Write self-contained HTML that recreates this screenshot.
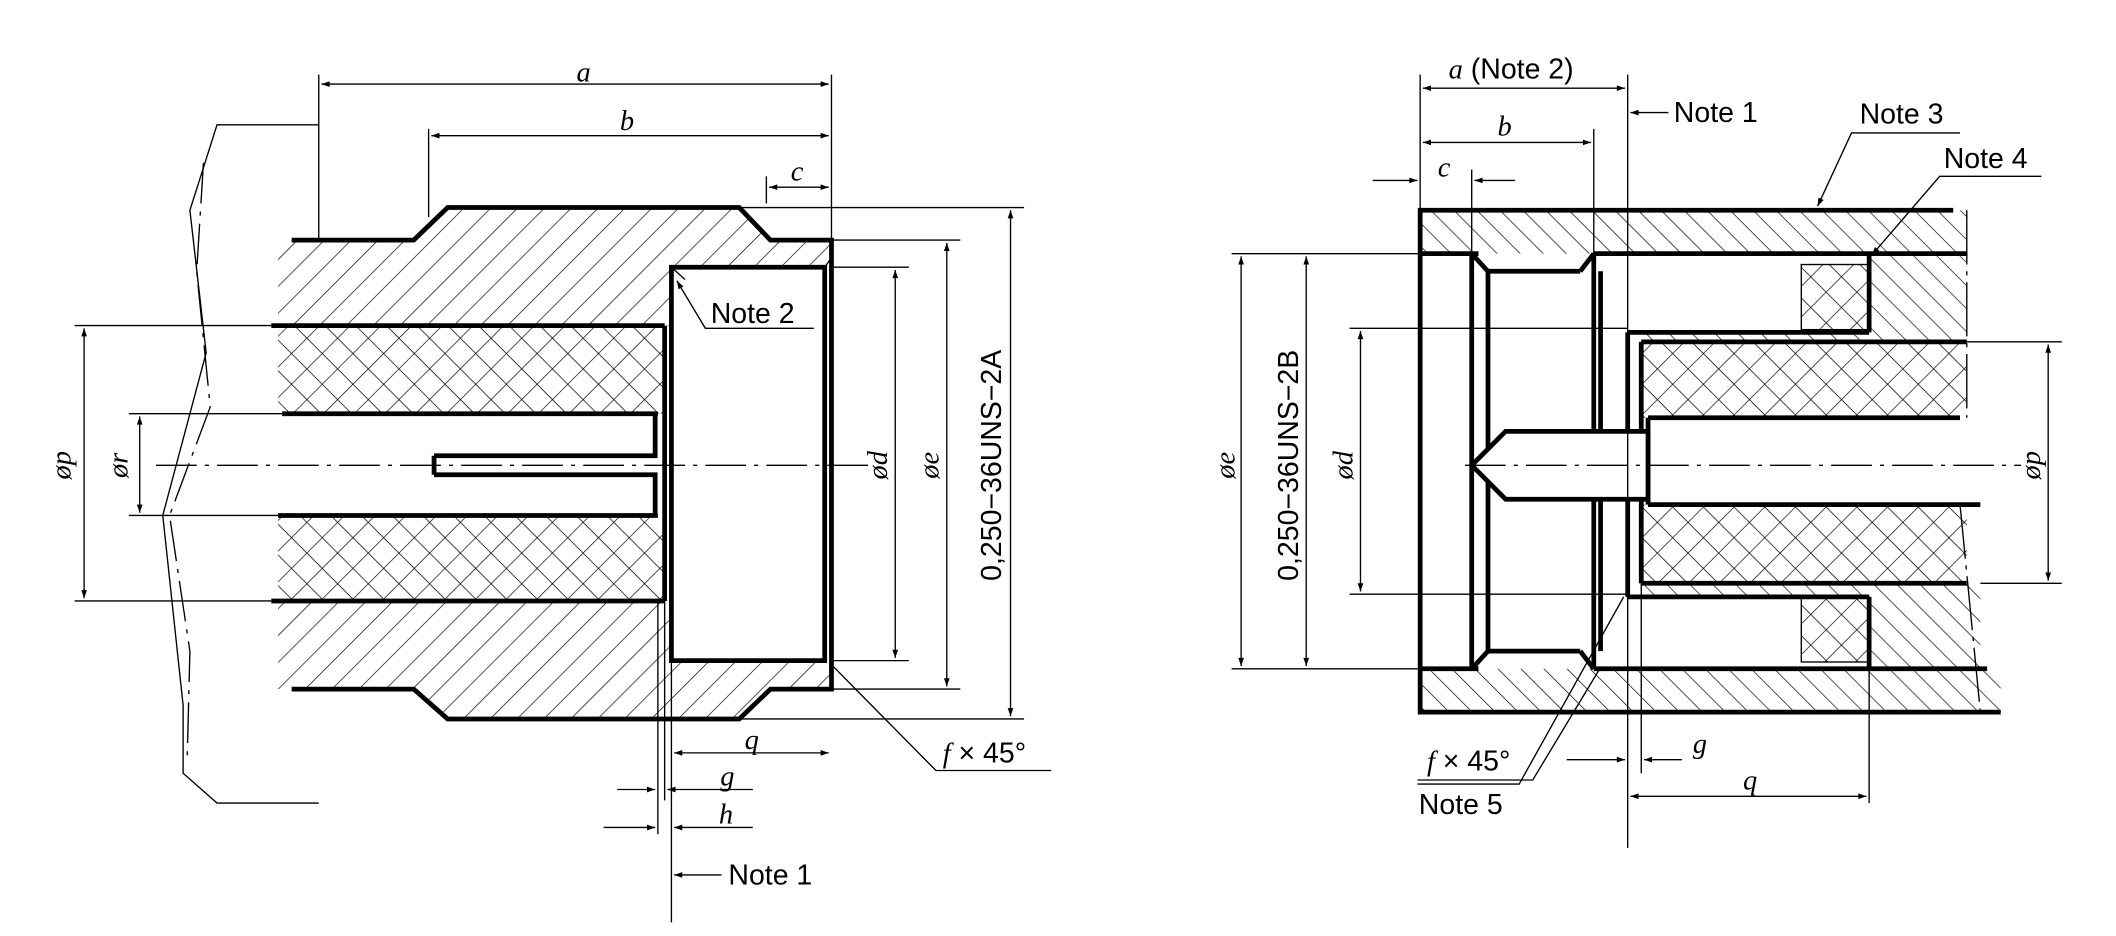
<!DOCTYPE html>
<html><head><meta charset="utf-8"><style>
html,body{margin:0;padding:0;background:#fff;}
svg{display:block;}
text{font-family:"Liberation Sans",sans-serif;fill:#000;}
.it{font-family:"Liberation Serif",serif;font-style:italic;}
</style></head><body>
<svg width="2116" height="936" viewBox="0 0 1560 690" preserveAspectRatio="none" xmlns="http://www.w3.org/2000/svg">
<defs>
<pattern id="h" width="14" height="14" patternUnits="userSpaceOnUse" patternTransform="rotate(45)"><line x1="0" y1="0" x2="0" y2="14" stroke="#000" stroke-width="1"/></pattern>
<pattern id="h2" width="12" height="12" patternUnits="userSpaceOnUse" patternTransform="rotate(-45)"><line x1="0" y1="0" x2="0" y2="12" stroke="#000" stroke-width="1"/></pattern>
<pattern id="x" width="16" height="16" patternUnits="userSpaceOnUse" patternTransform="rotate(45)"><line x1="0" y1="0" x2="0" y2="16" stroke="#000" stroke-width="1"/><line x1="0" y1="0" x2="16" y2="0" stroke="#000" stroke-width="1"/></pattern>
<marker id="a" viewBox="0 0 10 10" refX="10" refY="5" markerWidth="14" markerHeight="6" orient="auto-start-reverse" markerUnits="userSpaceOnUse"><path d="M0,1.5 L10,5 L0,8.5 z" fill="#000"/></marker>
</defs>
<g fill="none" stroke="#000">
<!-- LEFT hatch -->
<polygon points="205,177 305,177 330,153 545,153 568,177 613,177 613,197 495,197 495,240 205,240" fill="url(#h)" stroke="none"/>
<polygon points="205,443 495,443 495,487 613,487 613,508 568,508 545,530 330,530 305,508 205,508" fill="url(#h)" stroke="none"/>
<rect x="205" y="240" width="285" height="65" fill="url(#x)" stroke="none"/>
<rect x="205" y="380" width="285" height="63" fill="url(#x)" stroke="none"/>
<!-- left break -->
<path d="M235,92 L160,92 L140,155 L152,260 L120,380 L135,520 L135,570 L160,592 L235,592" stroke-width="1"/>
<path d="M150,120 L145,200 L155,300 L125,380 L140,480 L138,560" stroke-width="1" stroke-dasharray="30,6,3,6"/>
<!-- body outline -->
<g stroke-width="3.5">
<polyline points="215,177 305,177 330,153 545,153 568,177 613,177 613,508 568,508 545,530 330,530 305,508 215,508"/>
<line x1="200" y1="240" x2="490" y2="240"/><line x1="200" y1="443" x2="490" y2="443"/>
<line x1="208" y1="305" x2="485" y2="305"/><line x1="205" y1="380" x2="485" y2="380"/>
<line x1="490" y1="240" x2="490" y2="443"/>
<rect x="495" y="197" width="113" height="290"/>
<polyline points="320,336 483,336 483,305"/><polyline points="320,350 483,350 483,380"/><line x1="320" y1="336" x2="320" y2="350"/>
</g>
<line x1="495" y1="197" x2="505" y2="206"/><line x1="608" y1="197" x2="613" y2="190"/>
<line x1="115" y1="343" x2="640" y2="343" stroke-dasharray="30,6,3,6"/>
<!-- left dims -->
<g stroke-width="1">
<line x1="235" y1="55" x2="235" y2="177"/><line x1="316" y1="95" x2="316" y2="160"/><line x1="613" y1="55" x2="613" y2="177"/><line x1="565" y1="130" x2="565" y2="150"/>
<line x1="237" y1="62" x2="611" y2="62" marker-start="url(#a)" marker-end="url(#a)"/>
<line x1="318" y1="100" x2="611" y2="100" marker-start="url(#a)" marker-end="url(#a)"/>
<line x1="567" y1="138" x2="611" y2="138" marker-start="url(#a)" marker-end="url(#a)"/>
<line x1="55" y1="240" x2="200" y2="240"/><line x1="55" y1="443" x2="200" y2="443"/>
<line x1="62" y1="242" x2="62" y2="441" marker-start="url(#a)" marker-end="url(#a)"/>
<line x1="95" y1="305" x2="208" y2="305"/><line x1="95" y1="380" x2="205" y2="380"/>
<line x1="103" y1="307" x2="103" y2="378" marker-start="url(#a)" marker-end="url(#a)"/>
<line x1="613" y1="197" x2="670" y2="197"/><line x1="613" y1="487" x2="670" y2="487"/>
<line x1="660" y1="199" x2="660" y2="485" marker-start="url(#a)" marker-end="url(#a)"/>
<line x1="613" y1="177" x2="708" y2="177"/><line x1="613" y1="508" x2="708" y2="508"/>
<line x1="698" y1="179" x2="698" y2="506" marker-start="url(#a)" marker-end="url(#a)"/>
<line x1="545" y1="153" x2="755" y2="153"/><line x1="545" y1="530" x2="755" y2="530"/>
<line x1="745" y1="155" x2="745" y2="528" marker-start="url(#a)" marker-end="url(#a)"/>
<line x1="495" y1="487" x2="495" y2="680"/><line x1="485" y1="443" x2="485" y2="615"/><line x1="490" y1="443" x2="490" y2="590"/>
<line x1="497" y1="555" x2="611" y2="555" marker-start="url(#a)" marker-end="url(#a)"/>
<line x1="455" y1="582" x2="483" y2="582" marker-end="url(#a)"/><line x1="555" y1="582" x2="492" y2="582" marker-end="url(#a)"/>
<line x1="445" y1="610" x2="483" y2="610" marker-end="url(#a)"/><line x1="555" y1="610" x2="497" y2="610" marker-end="url(#a)"/>
<line x1="532" y1="645" x2="497" y2="645" marker-end="url(#a)"/>
<polyline points="600,242 520,242 499,207" marker-end="url(#a)"/>
<polyline points="775,568 690,568 613,490"/>
</g>
<!-- RIGHT hatch -->
<rect x="1047" y="155" width="403" height="32" fill="url(#h2)" stroke="none"/>
<rect x="1047" y="493" width="428" height="32" fill="url(#h2)" stroke="none"/>
<polygon points="1378,187 1450,187 1450,252 1210,252 1210,245 1378,245" fill="url(#h2)" stroke="none"/>
<polygon points="1378,493 1460,493 1460,430 1210,430 1210,440 1378,440" fill="url(#h2)" stroke="none"/>
<rect x="1210" y="252" width="240" height="56" fill="url(#x)" stroke="none"/>
<rect x="1210" y="372" width="240" height="58" fill="url(#x)" stroke="none"/>
<rect x="1328" y="195" width="50" height="48" fill="url(#x)"/>
<rect x="1328" y="440" width="50" height="48" fill="url(#x)"/>
<g stroke-width="3.5">
<polyline points="1440,155 1047,155 1047,525 1475,525"/>
<line x1="1047" y1="187" x2="1090" y2="187"/><line x1="1175" y1="187" x2="1450" y2="187"/>
<line x1="1047" y1="493" x2="1090" y2="493"/><line x1="1175" y1="493" x2="1465" y2="493"/>
<line x1="1085" y1="187" x2="1085" y2="493"/><line x1="1097" y1="200" x2="1097" y2="480"/>
<line x1="1097" y1="200" x2="1165" y2="200"/><line x1="1097" y1="480" x2="1165" y2="480"/>
<line x1="1085" y1="187" x2="1097" y2="200"/><line x1="1085" y1="493" x2="1097" y2="480"/>
<line x1="1165" y1="200" x2="1175" y2="187"/><line x1="1165" y1="480" x2="1175" y2="493"/>
<line x1="1175" y1="187" x2="1175" y2="493"/><line x1="1180" y1="200" x2="1180" y2="480"/>
<line x1="1200" y1="245" x2="1200" y2="440"/><line x1="1210" y1="252" x2="1210" y2="430"/>
<line x1="1200" y1="245" x2="1378" y2="245"/><line x1="1200" y1="440" x2="1378" y2="440"/>
<line x1="1378" y1="187" x2="1378" y2="245"/><line x1="1378" y1="440" x2="1378" y2="493"/>
<line x1="1210" y1="252" x2="1450" y2="252"/><line x1="1210" y1="430" x2="1450" y2="430"/>
<line x1="1215" y1="308" x2="1445" y2="308"/><line x1="1215" y1="372" x2="1460" y2="372"/>
<polyline points="1215,308 1215,372"/>
<polygon points="1110,318 1215,318 1215,368 1110,368 1085,343" fill="#fff"/>
</g>
<line x1="1450" y1="155" x2="1450" y2="308" stroke-dasharray="40,5,3,5"/><line x1="1445" y1="372" x2="1460" y2="525" stroke-dasharray="40,5,3,5"/>
<line x1="1080" y1="343" x2="1490" y2="343" stroke-dasharray="30,6,3,6"/>
<g stroke-width="1">
<line x1="1047" y1="55" x2="1047" y2="155"/><line x1="1200" y1="55" x2="1200" y2="625"/><line x1="1175" y1="95" x2="1175" y2="187"/><line x1="1085" y1="125" x2="1085" y2="187"/>
<line x1="1049" y1="65" x2="1198" y2="65" marker-start="url(#a)" marker-end="url(#a)"/>
<line x1="1049" y1="105" x2="1173" y2="105" marker-start="url(#a)" marker-end="url(#a)"/>
<line x1="1012" y1="133" x2="1045" y2="133" marker-end="url(#a)"/><line x1="1117" y1="133" x2="1087" y2="133" marker-end="url(#a)"/>
<line x1="1230" y1="83" x2="1202" y2="83" marker-end="url(#a)"/>
<polyline points="1445,98 1365,98 1340,152" marker-end="url(#a)"/>
<polyline points="1505,130 1430,130 1380,188" marker-end="url(#a)"/>
<line x1="908" y1="187" x2="1047" y2="187"/><line x1="908" y1="493" x2="1047" y2="493"/>
<line x1="915" y1="189" x2="915" y2="491" marker-start="url(#a)" marker-end="url(#a)"/>
<line x1="963" y1="189" x2="963" y2="491" marker-start="url(#a)" marker-end="url(#a)"/>
<line x1="995" y1="242" x2="1200" y2="242"/><line x1="995" y1="438" x2="1200" y2="438"/>
<line x1="1003" y1="244" x2="1003" y2="436" marker-start="url(#a)" marker-end="url(#a)"/>
<line x1="1450" y1="252" x2="1520" y2="252"/><line x1="1460" y1="430" x2="1520" y2="430"/>
<line x1="1510" y1="254" x2="1510" y2="428" marker-start="url(#a)" marker-end="url(#a)"/>
<line x1="1210" y1="430" x2="1210" y2="570"/><line x1="1378" y1="493" x2="1378" y2="592"/>
<line x1="1155" y1="560" x2="1198" y2="560" marker-end="url(#a)"/><line x1="1240" y1="560" x2="1212" y2="560" marker-end="url(#a)"/>
<line x1="1202" y1="587" x2="1376" y2="587" marker-start="url(#a)" marker-end="url(#a)"/>
<polyline points="1045,575 1130,575 1180,492"/>
<polyline points="1045,578 1120,578 1197,440"/>
</g>
</g>
<g font-size="21">
<text x="425" y="60" class="it">a</text><text x="457" y="96" class="it">b</text><text x="583" y="133" class="it">c</text>
<text x="524" y="238">Note 2</text>
<text x="549" y="552" class="it">q</text><text x="531" y="579" class="it">g</text><text x="530" y="607" class="it">h</text>
<text x="537" y="652">Note 1</text>
<text x="695" y="562"><tspan class="it">f</tspan> × 45°</text>
<text transform="translate(52,343) rotate(-90)" text-anchor="middle" class="it">øp</text>
<text transform="translate(94,343) rotate(-90)" text-anchor="middle" class="it">ør</text>
<text transform="translate(654,343) rotate(-90)" text-anchor="middle" class="it">ød</text>
<text transform="translate(692,343) rotate(-90)" text-anchor="middle" class="it">øe</text>
<text transform="translate(738,343) rotate(-90)" text-anchor="middle">0,250−36UNS−2A</text>
<text x="1068" y="58"><tspan class="it">a</tspan> (Note 2)</text>
<text x="1104" y="100" class="it">b</text><text x="1060" y="130" class="it">c</text>
<text x="1234" y="90">Note 1</text><text x="1371" y="91">Note 3</text><text x="1433" y="124">Note 4</text>
<text transform="translate(910,343) rotate(-90)" text-anchor="middle" class="it">øe</text>
<text transform="translate(957,343) rotate(-90)" text-anchor="middle">0,250−36UNS−2B</text>
<text transform="translate(997,343) rotate(-90)" text-anchor="middle" class="it">ød</text>
<text transform="translate(1504,343) rotate(-90)" text-anchor="middle" class="it">øp</text>
<text x="1248" y="555" class="it">g</text><text x="1285" y="582" class="it">q</text>
<text x="1052" y="568"><tspan class="it">f</tspan> × 45°</text>
<text x="1046" y="600">Note 5</text>
</g>
</svg>
</body></html>
